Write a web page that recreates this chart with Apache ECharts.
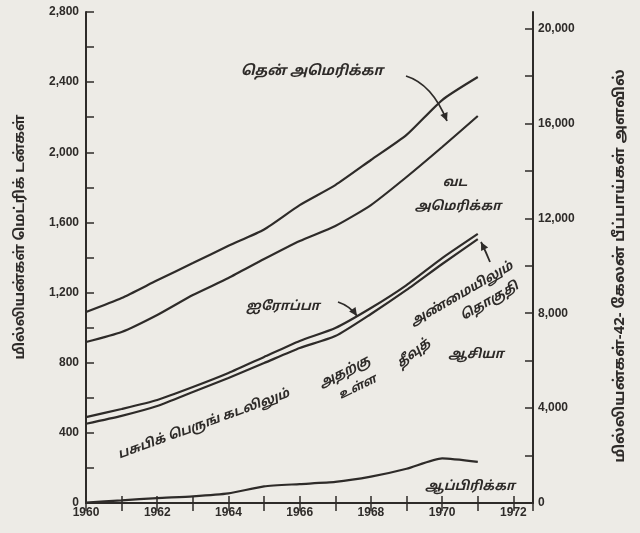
<!DOCTYPE html>
<html>
<head>
<meta charset="utf-8">
<script src="https://cdn.jsdelivr.net/npm/echarts@6/dist/echarts.min.js"></script>
<style>
html,body{margin:0;padding:0;background:#edebe6;}
#c{width:640px;height:533px;}
</style>
</head>
<body>
<div id="c"></div>
<script>
// ---- data ----
const years = [1960,1961,1962,1963,1964,1965,1966,1967,1968,1969,1970,1971];
const southAmerica = [1089,1169,1270,1368,1467,1560,1699,1813,1956,2099,2298,2429];
const northAmerica = [918,975,1072,1186,1283,1391,1494,1580,1699,1859,2030,2207];
const europe = [490,536,587,661,741,833,924,998,1112,1243,1397,1535];
const asiaPacific = [452,497,553,633,713,798,884,952,1078,1215,1363,1505];
const africa = [2,15,28,38,55,95,108,120,150,195,255,235];
const leftTicks = [0,400,800,1200,1600,2000,2400,2800];
const rightTicks = [0,4000,8000,12000,16000,20000];
const yearLabels = [1960,1962,1964,1966,1968,1970,1972];

const INK = '#2e2b29';
const FONT = '"Noto Sans Tamil","Noto Sans","Liberation Sans",Arial,sans-serif';
const NUMFONT = '"Liberation Sans",Arial,sans-serif';

function pairs(vals){ return years.map((y,i)=>[y, vals[i]]); }
function fmt(v){ return v.toLocaleString('en-US'); }

const chart = echarts.init(document.getElementById('c'), null, {renderer:'canvas'});

function lineSeries(name, vals){
  return {
    name, type:'line', data: pairs(vals), showSymbol:false, symbol:'none',
    smooth:0.2, lineStyle:{color:INK, width:2.2}, silent:true, animation:false
  };
}

function arrowHead(x1,y1,x2,y2,size){
  const a = Math.atan2(y2-y1, x2-x1);
  const s = size, w = 0.45;
  return [[x2,y2],[x2 - s*Math.cos(a-w), y2 - s*Math.sin(a-w)],[x2 - s*Math.cos(a+w), y2 - s*Math.sin(a+w)]];
}

function curvedArrow(x1,y1,cx,cy,x2,y2){
  return [
    {type:'bezierCurve', shape:{x1,y1,x2,y2,cpx1:cx,cpy1:cy}, style:{stroke:INK, lineWidth:1.8, fill:null}},
    {type:'polygon', shape:{points:arrowHead(cx,cy,x2,y2,9)}, style:{fill:INK}}
  ];
}

function label(text, x, y, deg, size){
  return {type:'text', x, y, rotation: (deg||0)*Math.PI/180,
    style:{text, align:'center', verticalAlign:'middle', fill:INK,
      font:'italic bold '+(size||13)+'px '+FONT}};
}

const option = {
  backgroundColor:'#edebe6',
  animation:false,
  grid:{left:86, right:107, top:12, bottom:30},
  xAxis:[
    {type:'value', min:1960, max:1972.55, interval:1, position:'bottom',
     axisLine:{lineStyle:{color:INK, width:2}},
     axisTick:{inside:true, length:7, lineStyle:{color:INK, width:1.5}},
     axisLabel:{color:INK, fontFamily:NUMFONT, fontWeight:'bold', fontSize:12, margin:4,
       showMaxLabel:false,
       formatter:v=>{const r=Math.round(v); return (Math.abs(v-r)<1e-6 && yearLabels.includes(r))? String(r):'';}},
     splitLine:{show:false}},
    {type:'value', min:1960, max:1972.55, interval:1, position:'top',
     axisLine:{lineStyle:{color:INK, width:2}},
     axisTick:{inside:true, length:8, lineStyle:{color:INK, width:1.5}},
     axisLabel:{show:false}, splitLine:{show:false}}
  ],
  yAxis:[
    {type:'value', min:0, max:2800, interval:200, position:'left',
     axisLine:{show:true, lineStyle:{color:INK, width:2}},
     axisTick:{show:true, inside:true, length:8, lineStyle:{color:INK, width:1.5}},
     axisLabel:{color:INK, fontFamily:NUMFONT, fontWeight:'bold', fontSize:12, margin:7,
       formatter:v=> leftTicks.includes(v) ? fmt(v) : ''},
     splitLine:{show:false}},
    {type:'value', min:0, max:20700, interval:2000, position:'right',
     axisLine:{show:true, lineStyle:{color:INK, width:2}},
     axisTick:{show:true, inside:true, length:8, lineStyle:{color:INK, width:1.5}},
     axisLabel:{color:INK, fontFamily:NUMFONT, fontWeight:'bold', fontSize:12, margin:5,
       showMaxLabel:false,
       formatter:v=> rightTicks.includes(v) ? fmt(v) : ''},
     splitLine:{show:false}}
  ],
  series:[
    lineSeries('தென் அமெரிக்கா', southAmerica),
    lineSeries('வட அமெரிக்கா', northAmerica),
    lineSeries('ஐரோப்பா', europe),
    lineSeries('ஆசியா', asiaPacific),
    lineSeries('ஆப்பிரிக்கா', africa)
  ],
  graphic:[
    {type:'text', x:21, y:237, rotation:Math.PI/2,
     style:{text:'மில்லியன்கள் மெட்ரிக் டன்கள்', align:'center', verticalAlign:'middle', fill:INK,
       font:'bold 14px '+FONT}},
    {type:'text', x:621, y:266, rotation:Math.PI/2,
     style:{text:'மில்லியன்கள்-42- கேலன் பீப்பாய்கள் அளவில்', align:'center', verticalAlign:'middle', fill:INK,
       font:'bold 15px '+FONT}},
    label('தென் அமெரிக்கா', 312, 72, 0, 14),
    ...curvedArrow(406, 76, 432, 84, 447, 121),
    label('வட', 455, 183, 0, 13),
    label('அமெரிக்கா', 458, 207, 0, 13),
    label('ஐரோப்பா', 283, 307, 0, 13),
    ...curvedArrow(338, 302, 350, 306, 357, 316),
    label('பசுபிக் பெருங் கடலிலும்', 204, 425, 20, 13),
    label('அதற்கு', 345, 373, 27, 13),
    label('அண்மையிலும்', 462, 295, 30, 13),
    label('உள்ள', 358, 388, 26, 12),
    label('தீவுத்', 414, 354, 38, 13),
    label('தொகுதி', 490, 302, 30, 13),
    label('ஆசியா', 476, 355, 0, 13),
    ...curvedArrow(490, 262, 486, 252, 481, 242),
    label('ஆப்பிரிக்கா', 470, 487, 0, 13)
  ]
};
chart.setOption(option);
</script>
</body>
</html>
